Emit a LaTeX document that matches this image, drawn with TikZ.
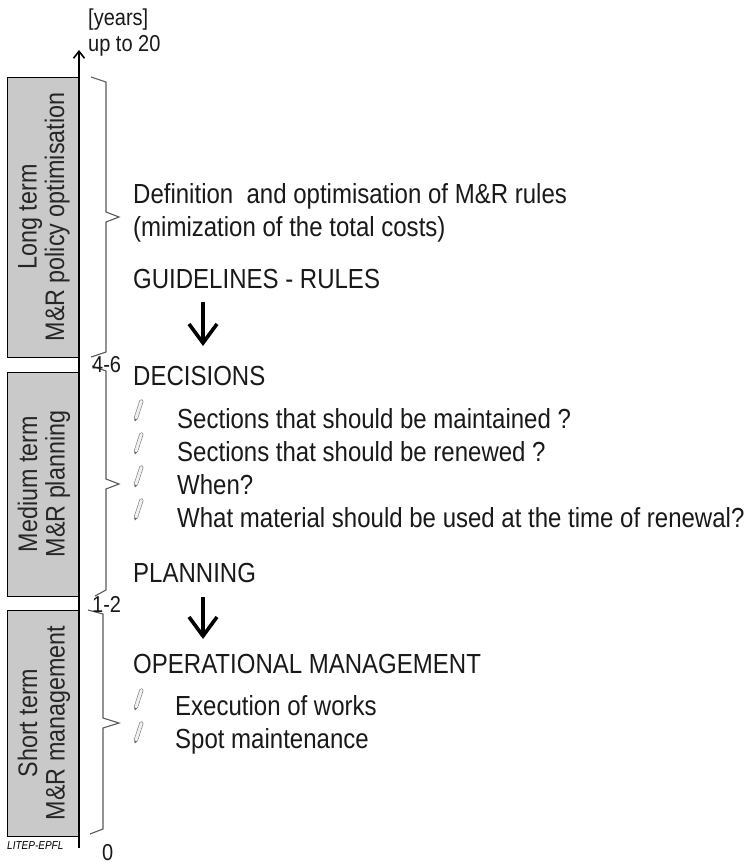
\documentclass[tikz,border=0pt]{standalone}
\usepackage{fontspec}
\setmainfont{Liberation Sans}[FakeStretch=0.87]
\usetikzlibrary{arrows.meta}
\begin{document}
\begin{tikzpicture}[x=1pt,y=-1pt,
  txt/.style={anchor=base west, inner sep=0pt, font=\fontsize{27.6}{27.6}\selectfont, text=black!90},
  small/.style={anchor=base west, inner sep=0pt, font=\fontsize{23}{23}\selectfont, text=black!90},
  tbox/.style={draw=black, fill=gray!42, line width=0.7pt},
  boxlabel/.style={rotate=90, align=center, inner sep=0pt, font=\fontsize{26.8}{27.5}\selectfont, text=black!85},
  bracel/.style={draw=black!65, line width=1.1pt, line join=miter},
  downarrow/.style={line width=4.2pt, -{Straight Barb[length=19pt,width=28pt,line width=3.6pt]}},
  pencil/.pic={
    \begin{scope}[rotate=72]
      \draw[black!50, fill=gray!12, line width=0.5pt] (3,-1.8) -- (21,-1.8) -- (22.5,0) -- (21,1.8) -- (3,1.8) -- (0,0) -- cycle;
      \fill[black!60] (0,0) -- (2.2,-1.3) -- (2.2,1.3) -- cycle;
    \end{scope}
  }]
\useasboundingbox (0,0) rectangle (752,864);

% boxes
\path[tbox] (7,77) rectangle (78,357);
\path[tbox] (7,372) rectangle (78,596);
\path[tbox] (7,610) rectangle (78,836);
\node[boxlabel] (lt) at (44,217) {Long term\\M\&R policy optimisation};
\node[boxlabel] (mt) at (44,484) {Medium term\\M\&R planning};
\node[boxlabel] (st) at (44,723) {Short term\\M\&R management};

% axis
\coordinate (ax0) at (79,848);
\coordinate (ax1) at (79,50);
\draw[line width=2.6pt, -{Straight Barb[length=7pt,width=11pt,line width=1.6pt]}] (ax0) -- (ax1);

\node[small] (yrs) at (88,26) {[years]};
\node[small] (up) at (88,52) {up to 20};
\node[small] (zero) at (102,860) {0};
\node[anchor=base west, inner sep=0pt, font=\fontsize{11.5}{11.5}\selectfont\itshape] (litep) at (7,849) {LITEP-EPFL};

% braces
\draw[bracel] (91,77) -- (106,82) -- (106,212) -- (119,217) -- (106,222) -- (106,352) -- (91,357);
\draw[bracel] (92,366) -- (106,371) -- (106,479) -- (119,484) -- (106,489) -- (106,590) -- (95,596);
\draw[bracel] (88,610) -- (103,614) -- (103,718) -- (119,723) -- (103,728) -- (103,829) -- (90,834);
\node[small] (n46) at (92,372) {4-6};
\node[small] (n12) at (92,612) {1-2};

% texts
\node[txt] (def) at (133,203) {Definition\ \ and optimisation of M\&R rules};
\node[txt] (mim) at (133,236) {(mimization of the total costs)};
\node[txt] (guide) at (133,288) {GUIDELINES - RULES};
\node[txt] (dec) at (133,385) {DECISIONS};
\node[txt] (d1) at (177,428) {Sections that should be maintained ?};
\node[txt] (d2) at (177,461) {Sections that should be renewed ?};
\node[txt] (d3) at (177,494) {When?};
\node[txt] (d4) at (177,527) {What material should be used at the time of renewal?};
\node[txt] (plan) at (133,582) {PLANNING};
\node[txt] (ops) at (133,673) {OPERATIONAL MANAGEMENT};
\node[txt] (o1) at (175,715) {Execution of works};
\node[txt] (o2) at (175,748) {Spot maintenance};

% pencils
\foreach \yy in {421,454,487,520} \pic at (135,\yy) {pencil};
\foreach \yy in {710,743} \pic at (135,\yy) {pencil};

% arrows
\coordinate (a1s) at (203,302);
\coordinate (a1e) at (203,346);
\coordinate (a2s) at (203,597);
\coordinate (a2e) at (203,639);
\draw[downarrow] (a1s) -- (a1e);
\draw[downarrow] (a2s) -- (a2e);
\end{tikzpicture}
\end{document}
